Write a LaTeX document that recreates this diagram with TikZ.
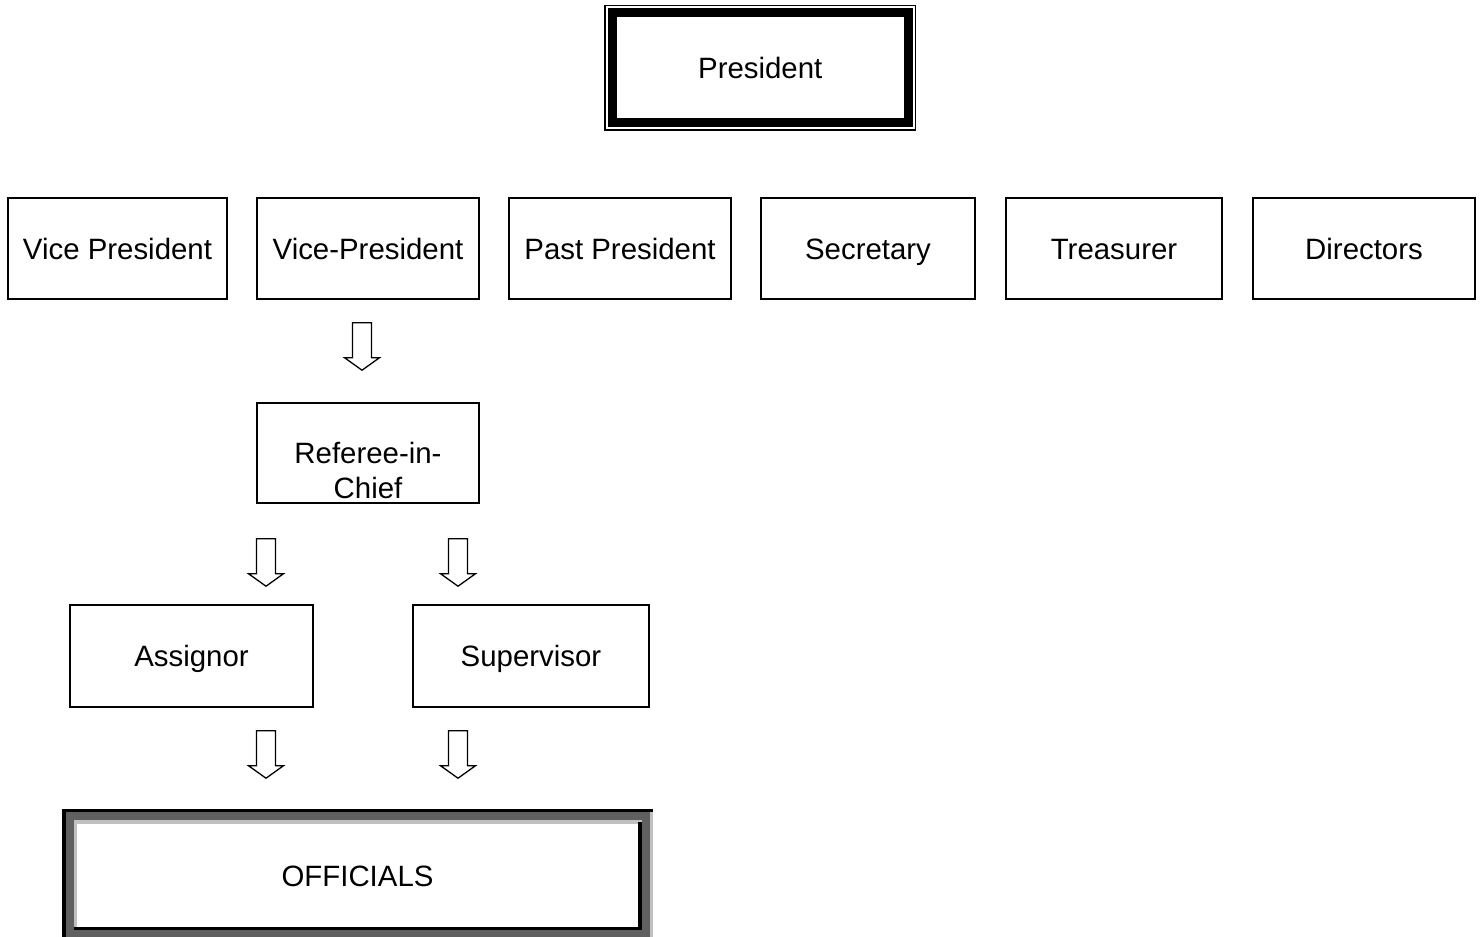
\documentclass[tikz,border=0pt]{standalone}
\usepackage{fontspec}
\setmainfont{Liberation Sans}
\usetikzlibrary{calc}
\definecolor{framegray}{HTML}{606060}
\definecolor{framelight}{HTML}{C0C0C0}
\newcommand{\hollowdown}[1]{\draw[blockarrow] #1 ++(-9.5,0) -- ++(0,35) -- ++(-8,0) -- ++(17.5,12.5) -- ++(17.5,-12.5) -- ++(-8,0) -- ++(0,-35) -- cycle;}

\begin{document}
\begin{tikzpicture}[x=0.5pt, y=-0.5pt,
		labelfont/.style={font=\fontsize{14.7}{17.5}\selectfont},
		box/.style={draw, line width=0.7pt, minimum height=50.5pt, inner sep=0pt, text height=10.5pt, text depth=0pt, labelfont},
		blockarrow/.style={draw, line width=0.65pt, line join=miter}]
	\useasboundingbox (0,0) rectangle (1481,936);
	\clip (0,0) rectangle (1481,936);

	\node[box, line width=4.5pt, minimum width=148.25pt, minimum height=55.25pt] (pres) at (760.25,67.75) {President};
	\draw[line width=0.75pt] ($(pres.north west)+(-2.5,-2.5)$) rectangle ($(pres.south east)+(2.5,2.5)$);

	\node[box, minimum width=109.5pt] (vp1) at (117.5,248.5) {Vice President};
	\node[box, minimum width=111pt] (vp2) at (368,248.5) {Vice-President};
	\node[box, minimum width=111pt] (past) at (620,248.5) {Past President};
	\node[box, minimum width=107pt] (sec) at (868,248.5) {Secretary};
	\node[box, minimum width=108pt] (tre) at (1114,248.5) {Treasurer};
	\node[box, minimum width=111pt] (dir) at (1364,248.5) {Directors};

	\node[box, minimum width=111pt, minimum height=50pt] (ref) at (368,453) {};
	\node[labelfont, align=center, inner sep=0pt] (reftext) at ($(ref.center)+(0,17)$) {Referee-in-\\Chief};

	\node[box, minimum width=121.5pt, minimum height=51pt] (asg) at (191.5,656) {Assignor};
	\node[box, minimum width=118pt, minimum height=51pt] (sup) at (531,656) {Supervisor};

	\fill[framegray] (62,809) rectangle (653,945);
	\fill[black] (62,809) rectangle (66,945);
	\fill[black] (62,809) rectangle (653,812);
	\fill[framelight] (650,812) rectangle (653,945);
	\fill[framelight] (74,820) rectangle (642,824);
	\fill[framelight] (74,820) rectangle (77,930);
	\fill[black] (638,822) rectangle (642,930);
	\fill[black] (74,927) rectangle (642,930);
	\node[fill=white, minimum width=280.5pt, minimum height=51.5pt, inner sep=0pt, text height=10.5pt, text depth=0pt, labelfont] (off) at (357.5,875.5) {OFFICIALS};

	\hollowdown{($(vp2.south)+(-6,23)$)}
	\hollowdown{($(ref.south)+(-102,35)$)}
	\hollowdown{($(ref.south)+(90,35)$)}
	\hollowdown{($(asg.south)+(74.5,23)$)}
	\hollowdown{($(sup.south)+(-73,23)$)}
\end{tikzpicture}
\end{document}
